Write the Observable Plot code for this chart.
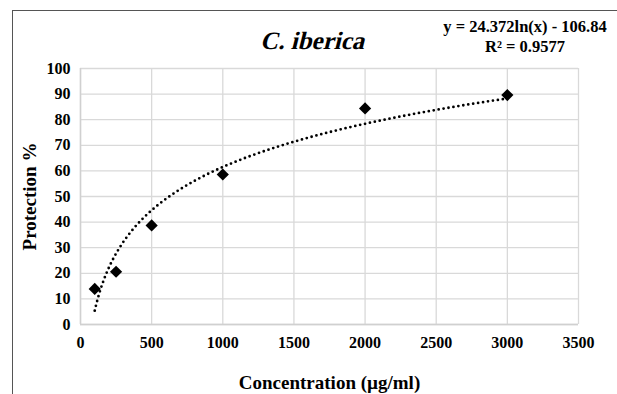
<!DOCTYPE html>
<html><head><meta charset="utf-8">
<script src="https://cdn.jsdelivr.net/npm/d3@7"></script>
<script src="https://cdn.jsdelivr.net/npm/@observablehq/plot@0.6"></script>
<style>
body{margin:0;background:#fff;overflow:hidden;}
#wrap{position:relative;width:617px;height:394px;}
#frame{position:absolute;left:12px;top:10px;width:700px;height:500px;border-left:1.5px solid #555;border-top:1.5px solid #555;}
.t{position:absolute;white-space:nowrap;font-weight:bold;color:#000;font-family:"Liberation Serif","Times New Roman",serif;}
#title{left:314px;top:41px;transform:translate(-50%,-50%) skewX(-14deg);font-size:25px;font-style:normal;}
#eq{left:525px;top:27px;transform:translate(-50%,-50%);font-size:16.5px;}
#r2{left:525px;top:47px;transform:translate(-50%,-50%);font-size:16.5px;}
svg{position:absolute;left:0;top:0;}
</style></head>
<body><div id="wrap"><div id="frame"></div></div>
<script>
const concentration = [100, 250, 500, 1000, 2000, 3000];
const protection = [13.9, 20.6, 38.7, 58.6, 84.4, 89.6];
const xTicks = [0, 500, 1000, 1500, 2000, 2500, 3000, 3500];
const yTicks = [0, 10, 20, 30, 40, 50, 60, 70, 80, 90, 100];
const trendCoef = {a: 24.372, b: -106.84};
const trendLabel = "y = 24.372ln(x) - 106.84";
const r2Label = "R² = 0.9577";

const pts = concentration.map((c, i) => ({x: c, y: protection[i]}));
const xs = d3.range(100, 3001, 10);
const trend = xs.map(x => ({x, y: trendCoef.a * Math.log(x) + trendCoef.b}));

const chart = Plot.plot({
  width: 617, height: 394,
  marginLeft: 80, marginRight: 39, marginTop: 68, marginBottom: 70,
  style: {fontFamily: '"Liberation Serif","Times New Roman",serif', fontWeight: "bold", fontSize: "16px", color: "#000", background: "transparent"},
  x: {domain: [0, 3500], ticks: xTicks, tickFormat: d3.format("d"), tickSize: 0, tickPadding: 12, label: "Concentration (µg/ml)", labelAnchor: "center", labelArrow: "none", labelOffset: 64},
  y: {domain: [0, 100], ticks: yTicks, tickFormat: d3.format("d"), tickSize: 0, tickPadding: 10, label: "Protection %", labelAnchor: "center", labelArrow: "none", labelOffset: 58},
  marks: [
    Plot.gridX(xTicks, {stroke: "#d9d9d9", strokeOpacity: 1, strokeWidth: 1.3}),
    Plot.gridY(yTicks, {stroke: "#d9d9d9", strokeOpacity: 1, strokeWidth: 1.3}),
    Plot.ruleY([0], {stroke: "#d0d0d0", strokeWidth: 1.5}),
    Plot.ruleX([0], {stroke: "#d0d0d0", strokeWidth: 1.5}),
    Plot.line(trend, {x: "x", y: "y", stroke: "#000", strokeWidth: 2.8, strokeDasharray: "0,5", strokeLinecap: "round"}),
    Plot.dot(pts, {x: "x", y: "y", symbol: "diamond2", r: 5.5, fill: "#000", stroke: "none"})
  ]
});
d3.select(chart).selectAll('[aria-label="x-axis label"] text, [aria-label="y-axis label"] text').style("font-size", "19px");
const wrap = document.getElementById("wrap");
wrap.appendChild(chart);
for (const [id, txt] of [["title","C. iberica"],["eq",trendLabel],["r2",r2Label]]) {
  const d = document.createElement("div"); d.id = id; d.className = "t"; d.textContent = txt; wrap.appendChild(d);
}
</script></body></html>
